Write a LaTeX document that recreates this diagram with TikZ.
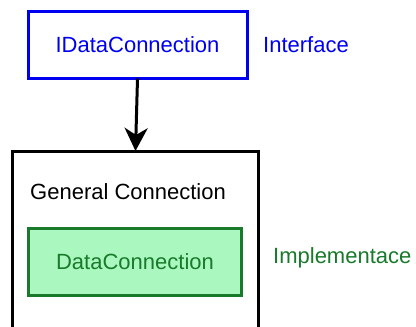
\documentclass[tikz,border=0pt]{standalone}
\usepackage{fontspec}
\setmainfont{Liberation Sans}
\usetikzlibrary{arrows.meta}
\definecolor{ifblue}{HTML}{0000F0}
\definecolor{impgreen}{HTML}{187A2A}
\definecolor{impfill}{HTML}{AAF8C0}
\begin{document}
\begin{tikzpicture}[x=1pt,y=-1pt,
  lbl/.style={font=\fontsize{22}{25}\selectfont, inner sep=0pt},
  box/.style={draw, line width=3pt, inner sep=0pt, outer sep=0pt}]
\clip (0,0) rectangle (416,327);
\node[box, draw=ifblue, text=ifblue, lbl, minimum width=219pt, minimum height=67pt] (iface) at (137.5,45) {IDataConnection};
\node[lbl, text=ifblue, anchor=west] (ifacelbl) at (263,45) {Interface};
\node[box, draw=black, minimum width=246pt, minimum height=195pt] (gen) at (135.5,248.5) {};
\node[lbl, anchor=west] (gentxt) at (30,192) {General Connection};
\node[draw=impgreen, fill=impfill, line width=2.5pt, text=impgreen, lbl, minimum width=213pt, minimum height=67pt] (dc) at (135,262) {DataConnection};
\node[lbl, text=impgreen, anchor=west] (implbl) at (273,258) {Implementace};
\draw[line width=3pt, -{Stealth[length=23pt,width=23pt,inset=7pt]}] (iface.south) -- (gen.north);
\end{tikzpicture}
\end{document}
